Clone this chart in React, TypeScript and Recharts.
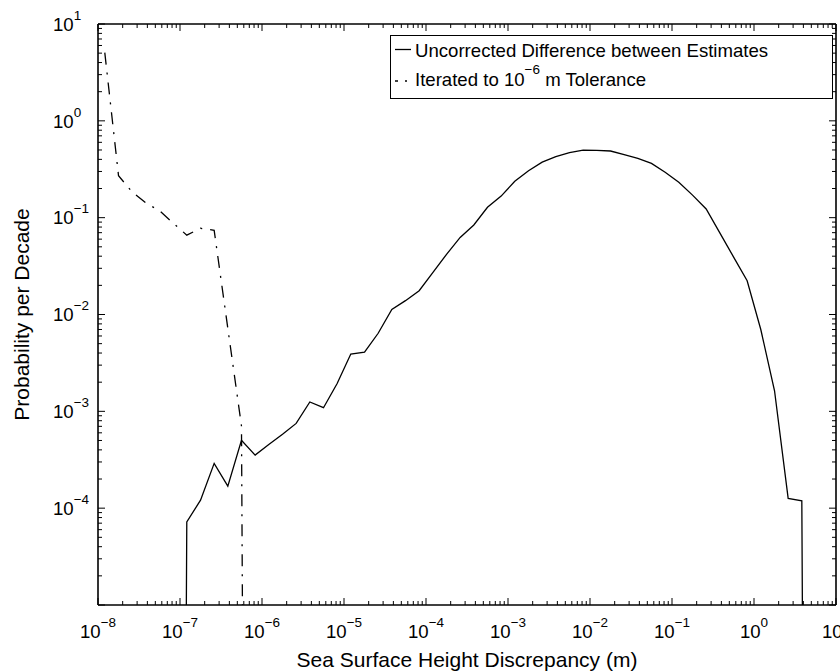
import { LineChart, Line, XAxis, YAxis, Legend } from 'recharts'

const FONT = '"Liberation Sans", Arial, Helvetica, sans-serif'
const PLOT_TOP = 24
const PLOT_LEFT = 98
const PLOT_RIGHT = 836

// bin centres in metres (6 bins per decade)
const uncorrectedX = [
  8.25e-8, 1.21e-7, 1.78e-7, 2.61e-7, 3.83e-7, 5.62e-7, 8.25e-7,
  1.21e-6, 1.78e-6, 2.61e-6, 3.83e-6, 5.62e-6, 8.25e-6,
  1.21e-5, 1.78e-5, 2.61e-5, 3.83e-5, 5.62e-5, 8.25e-5,
  1.21e-4, 1.78e-4, 2.61e-4, 3.83e-4, 5.62e-4, 8.25e-4,
  1.21e-3, 1.78e-3, 2.61e-3, 3.83e-3, 5.62e-3, 8.25e-3,
  1.21e-2, 1.78e-2, 2.61e-2, 3.83e-2, 5.62e-2, 8.25e-2,
  1.21e-1, 1.78e-1, 2.61e-1, 3.83e-1, 5.62e-1, 8.25e-1,
  1.21, 1.78, 2.61, 3.83, 5.62,
]
const uncorrectedP = [
  1e-30, 7.2e-5, 1.21e-4, 2.9e-4, 1.69e-4, 5.03e-4, 3.53e-4,
  4.55e-4, 5.8e-4, 7.5e-4, 1.25e-3, 1.09e-3, 1.94e-3,
  3.9e-3, 4.09e-3, 6.4e-3, 0.0113, 0.0139, 0.0176,
  0.027, 0.0418, 0.0625, 0.084, 0.128, 0.167,
  0.238, 0.305, 0.375, 0.426, 0.469, 0.499,
  0.496, 0.488, 0.447, 0.41, 0.364, 0.294,
  0.232, 0.171, 0.123, 0.0696, 0.0394, 0.0223,
  7.0e-3, 1.63e-3, 1.26e-4, 1.19e-4, 1e-30,
]

const iteratedX = [
  1.21e-8, 1.78e-8, 2.61e-8, 3.83e-8, 5.62e-8, 8.25e-8,
  1.21e-7, 1.78e-7, 2.61e-7, 3.83e-7, 5.62e-7, 8.25e-7,
]
const iteratedP = [
  5.06, 0.271, 0.184, 0.142, 0.118, 0.088,
  0.066, 0.0777, 0.074, 0.0072, 7.06e-4, 1e-30,
]

const xMajor = [1e-8, 1e-7, 1e-6, 1e-5, 1e-4, 1e-3, 1e-2, 1e-1, 1, 10]
const xExp = ['\u22128', '\u22127', '\u22126', '\u22125', '\u22124', '\u22123', '\u22122', '\u22121', '0', '1']
const yMajor = [1e-5, 1e-4, 1e-3, 1e-2, 1e-1, 1, 10]
const yExp = ['', '\u22124', '\u22123', '\u22122', '\u22121', '0', '1']

const minorOf = (majors: number[]) =>
  majors.slice(0, -1).flatMap((d) => [2, 3, 4, 5, 6, 7, 8, 9].map((k) => k * d))

const xTicks = [...xMajor, ...minorOf(xMajor)]
const yTicks = [...yMajor, ...minorOf(yMajor)]

const uncorrected = uncorrectedX.map((x, i) => ({ x, p: uncorrectedP[i] }))
const iterated = iteratedX.map((x, i) => ({ x, p: iteratedP[i] }))

const majorIndex = (v: number, majors: number[]) =>
  majors.findIndex((m) => Math.abs(Math.log10(v) - Math.log10(m)) < 1e-6)

// bottom axis tick: inward tick at bottom and top of the box, plus label
function BottomTick(props: any) {
  const { x, y, payload } = props
  const i = majorIndex(payload.value, xMajor)
  const len = i >= 0 ? 7 : 4
  return (
    <g>
      <line x1={x} x2={x} y1={y} y2={y - len} stroke="#000" strokeWidth={1} />
      <line x1={x} x2={x} y1={PLOT_TOP} y2={PLOT_TOP + len} stroke="#000" strokeWidth={1} />
      {i >= 0 && (
        <text x={x} y={y + 33} textAnchor="middle" fontSize={18.6} fontFamily={FONT} fill="#000">
          <tspan>10</tspan>
          <tspan dy={-11} fontSize={13.5}>{xExp[i]}</tspan>
        </text>
      )}
    </g>
  )
}

// left axis tick: inward tick at left and right of the box, plus label
function LeftTick(props: any) {
  const { x, y, payload } = props
  const i = majorIndex(payload.value, yMajor)
  const len = i >= 0 ? 7 : 4
  return (
    <g>
      <line x1={x} x2={x + len} y1={y} y2={y} stroke="#000" strokeWidth={1} />
      <line x1={PLOT_RIGHT} x2={PLOT_RIGHT - len} y1={y} y2={y} stroke="#000" strokeWidth={1} />
      {i === yMajor.length - 1 && (
        <line x1={PLOT_LEFT} x2={PLOT_RIGHT} y1={y} y2={y} stroke="#000" strokeWidth={1.6} />
      )}
      {i > 0 && (
        <text x={x - 45} y={y + 6.7} textAnchor="start" fontSize={18.6} fontFamily={FONT} fill="#000">
          <tspan>10</tspan>
          <tspan dy={-11} fontSize={13.5}>{yExp[i]}</tspan>
        </text>
      )}
    </g>
  )
}

function LegendBox() {
  return (
    <svg width={443} height={64} style={{ display: 'block' }}>
      <rect x={0.5} y={0.5} width={442} height={63} fill="#fff" stroke="#000" strokeWidth={1} />
      <line x1={5} x2={21} y1={14.5} y2={14.5} stroke="#000" strokeWidth={1.3} />
      <line
        x1={5}
        x2={21}
        y1={46}
        y2={46}
        stroke="#000"
        strokeWidth={1.3}
        strokeDasharray="10 7 2 7"
        strokeDashoffset={7}
      />
      <text x={25} y={21.7} fontSize={18.6} fontFamily={FONT} fill="#000">
        Uncorrected Difference between Estimates
      </text>
      <text x={25} y={51} fontSize={18.6} fontFamily={FONT} fill="#000">
        <tspan>Iterated to 10</tspan>
        <tspan dy={-12.5} fontSize={13.5}>{'\u22126'}</tspan>
        <tspan dy={12.5}> m Tolerance</tspan>
      </text>
    </svg>
  )
}

export default function App() {
  return (
    <div style={{ position: 'absolute', left: 0, top: 0, width: 840, height: 672, background: '#fff' }}>
      <LineChart width={840} height={672} margin={{ top: PLOT_TOP, right: 3, left: 0, bottom: 0 }}>
        <XAxis
          xAxisId={0}
          dataKey="x"
          type="number"
          scale="log"
          domain={[1e-8, 10]}
          allowDataOverflow
          ticks={xTicks}
          interval={0}
          tick={<BottomTick />}
          tickLine={false}
          tickSize={0}
          tickMargin={0}
          height={67}
          axisLine={{ stroke: '#000', strokeWidth: 1.6 }}
          label={() => (
            <text x={467} y={667} textAnchor="middle" fontSize={21} fontFamily={FONT} fill="#000">
              Sea Surface Height Discrepancy (m)
            </text>
          )}
        />
        <YAxis
          yAxisId={0}
          dataKey="p"
          type="number"
          scale="log"
          domain={[1e-5, 10]}
          allowDataOverflow
          ticks={yTicks}
          interval={0}
          tick={<LeftTick />}
          tickLine={false}
          tickSize={0}
          tickMargin={0}
          width={PLOT_LEFT}
          axisLine={{ stroke: '#000', strokeWidth: 1.6 }}
          label={() => (
            <text
              x={29}
              y={314.5}
              transform="rotate(-90 29 314.5)"
              textAnchor="middle"
              fontSize={21}
              fontFamily={FONT}
              fill="#000"
            >
              Probability per Decade
            </text>
          )}
        />
        <YAxis
          yAxisId="right"
          orientation="right"
          type="number"
          scale="log"
          domain={[1e-5, 10]}
          allowDataOverflow
          tick={false}
          tickLine={false}
          width={1}
          axisLine={{ stroke: '#000', strokeWidth: 1.6 }}
        />
        <Line
          xAxisId={0}
          yAxisId={0}
          data={uncorrected}
          dataKey="p"
          type="linear"
          stroke="#000"
          strokeWidth={1.3}
          dot={false}
          activeDot={false}
          isAnimationActive={false}
          name="Uncorrected Difference between Estimates"
        />
        <Line
          xAxisId={0}
          yAxisId={0}
          data={iterated}
          dataKey="p"
          type="linear"
          stroke="#000"
          strokeWidth={1.3}
          strokeDasharray="12 8 2 8"
          dot={false}
          activeDot={false}
          isAnimationActive={false}
          name="Iterated to 10^-6 m Tolerance"
        />
        <Legend
          layout="horizontal"
          verticalAlign="middle"
          align="center"
          wrapperStyle={{ left: 390, top: 35, width: 443, height: 64 }}
          content={() => <LegendBox />}
        />
      </LineChart>
    </div>
  )
}
